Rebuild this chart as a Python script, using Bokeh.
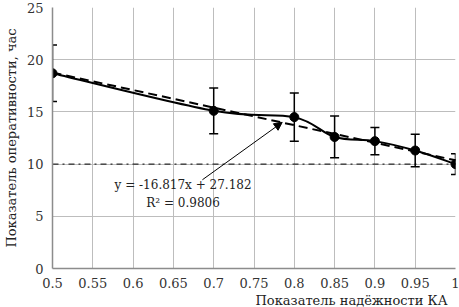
from bokeh.plotting import figure
from bokeh.models import (ColumnDataSource, Whisker, FixedTicker, CustomJSTickFormatter,
                          Arrow, NormalHead, Label, Title)
from bokeh.embed import file_html
from bokeh.resources import INLINE

# ---- data ----
reliability = [0.5, 0.7, 0.8, 0.85, 0.9, 0.95, 1.0]
efficiency = [18.7, 15.1, 14.5, 12.6, 12.2, 11.3, 10.0]
err = [2.7, 2.2, 2.3, 2.0, 1.3, 1.55, 1.0]
trend_slope = -16.817
trend_intercept = 27.182
r2 = 0.9806
threshold = 10
x_ticks = [0.5, 0.55, 0.6, 0.65, 0.7, 0.75, 0.8, 0.85, 0.9, 0.95, 1.0]
y_ticks = [0, 5, 10, 15, 20, 25]

FONT = "DejaVu Serif"

p = figure(width=459, height=307, output_backend="svg", toolbar_location=None,
           x_range=(0.5, 1.0), y_range=(0, 25),
           min_border_left=10, min_border_right=4, min_border_top=7, min_border_bottom=0)
p.outline_line_color = None
p.background_fill_color = "white"

for ax in (p.xaxis[0], p.yaxis[0]):
    ax.axis_line_color = "#8c8c8c"
    ax.axis_line_width = 1.5
    ax.major_tick_out = 0
    ax.major_tick_in = 0
    ax.minor_tick_out = 0
    ax.minor_tick_in = 0
    ax.major_label_text_font = FONT
    ax.major_label_text_font_size = "13px"
    ax.major_label_text_color = "#333333"
    ax.axis_label_text_font = FONT
    ax.axis_label_text_font_size = "13px"
    ax.axis_label_text_font_style = "normal"
    ax.axis_label_text_color = "#222222"

p.xaxis.ticker = FixedTicker(ticks=x_ticks)
p.yaxis.ticker = FixedTicker(ticks=y_ticks)
p.xaxis.formatter = CustomJSTickFormatter(code="return String(Math.round(tick*100)/100);")
p.xaxis.major_label_standoff = 9
p.yaxis.major_label_standoff = 9
p.yaxis.axis_label = "Показатель оперативности, час"
p.yaxis.axis_label_standoff = 5

p.xgrid.grid_line_color = "#bdbdbd"
p.ygrid.grid_line_color = "#bdbdbd"

xt = Title(text="Показатель надёжности КА", align="right", text_font=FONT,
           text_font_size="13px", text_font_style="normal", text_color="#222222",
           offset=8, standoff=0)
p.add_layout(xt, "below")

p.line([x_ticks[0], x_ticks[-1]], [threshold, threshold], line_color="black",
       line_width=1, line_dash="dashdot")

tx = [reliability[0], reliability[-1]]
ty = [trend_slope * v + trend_intercept for v in tx]
p.line(tx, ty, line_color="black", line_width=2, line_dash="9 5")

n = len(reliability)
x0, y0, x1, y1, cx0, cy0, cx1, cy1 = [], [], [], [], [], [], [], []
for i in range(n - 1):
    pm = max(i - 1, 0)
    pp = min(i + 2, n - 1)
    x0.append(reliability[i]); y0.append(efficiency[i])
    x1.append(reliability[i + 1]); y1.append(efficiency[i + 1])
    cx0.append(reliability[i] + (reliability[i + 1] - reliability[pm]) / 6)
    cy0.append(efficiency[i] + (efficiency[i + 1] - efficiency[pm]) / 6)
    cx1.append(reliability[i + 1] - (reliability[pp] - reliability[i]) / 6)
    cy1.append(efficiency[i + 1] - (efficiency[pp] - efficiency[i]) / 6)
bz = ColumnDataSource(dict(x0=x0, y0=y0, x1=x1, y1=y1, cx0=cx0, cy0=cy0, cx1=cx1, cy1=cy1))
p.bezier(x0="x0", y0="y0", x1="x1", y1="y1", cx0="cx0", cy0="cy0", cx1="cx1", cy1="cy1",
         source=bz, line_color="black", line_width=2)

src = ColumnDataSource(dict(x=reliability, y=efficiency,
                            lo=[a - b for a, b in zip(efficiency, err)],
                            hi=[a + b for a, b in zip(efficiency, err)]))
w = Whisker(base="x", lower="lo", upper="hi", source=src, line_color="black", line_width=1.5)
w.upper_head.size = 9
w.lower_head.size = 9
w.upper_head.line_width = 1.5
w.lower_head.line_width = 1.5
p.add_layout(w)

p.scatter("x", "y", source=src, size=9, color="black")

eq = f"y = {trend_slope}x + {trend_intercept}"
p.add_layout(Label(x=0.662, y=8.0, text=eq, text_font=FONT, text_font_size="12px",
                   text_color="#222222", text_align="center", text_baseline="middle"))
p.add_layout(Label(x=0.662, y=6.3, text=f"R² = {r2}", text_font=FONT, text_font_size="12px",
                   text_color="#222222", text_align="center", text_baseline="middle"))
p.add_layout(Arrow(x_start=0.686, y_start=8.5, x_end=0.785, y_end=14.0,
                   line_color="black", line_width=1,
                   end=NormalHead(size=8, fill_color="black", line_color="black")))

open("out.html", "w").write(file_html(p, INLINE))
